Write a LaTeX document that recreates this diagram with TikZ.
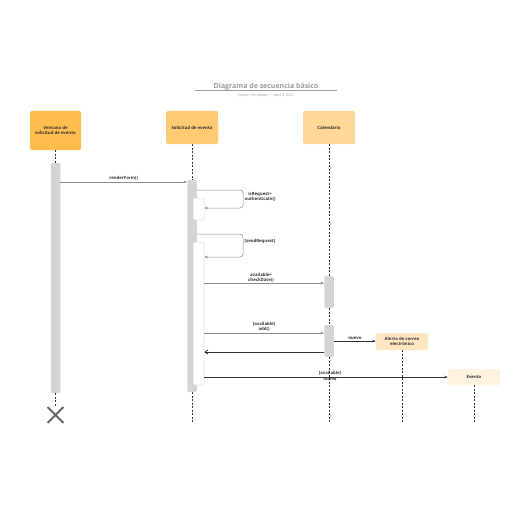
\documentclass[tikz,border=0pt]{standalone}
\usepackage{fontspec}
\setmainfont{Open Sans}
\usetikzlibrary{arrows.meta,shapes.misc}
\definecolor{cA}{HTML}{FFBD4E}
\definecolor{cB}{HTML}{FFCA71}
\definecolor{cC}{HTML}{FFD797}
\definecolor{cD}{HTML}{FFE6C2}
\definecolor{cE}{HTML}{FFF3E0}
\definecolor{barc}{HTML}{D4D4D4}
\definecolor{msgc}{HTML}{8C8C8C}
\definecolor{darkc}{HTML}{333333}
\definecolor{titc}{HTML}{9A9A9A}
\tikzset{
  actor/.style={rounded corners=1.5pt, inner sep=1pt, align=center, font=\fontsize{4.3}{5.4}\selectfont\bfseries, text=darkc},
  bar/.style={fill=barc, draw=none, rounded corners=1.5pt, minimum width=9.5pt, inner sep=0pt},
  wbox/.style={fill=white, draw=barc, line width=0.5pt, rounded corners=1.5pt, minimum width=11pt, inner sep=0pt},
  life/.style={draw=darkc, line width=0.6pt, dash pattern=on 2pt off 1.5pt},
  msg/.style={draw=msgc, line width=0.5pt, -{Stealth[length=3.5pt,width=2.5pt]}},
  dmsg/.style={draw=darkc, line width=0.8pt, -{Stealth[length=3.5pt,width=2.5pt]}},
  ret/.style={draw=darkc, line width=0.8pt, -{Straight Barb[length=3pt,width=4pt]}},
  lbl/.style={font=\fontsize{4.3}{5.4}\selectfont\bfseries, text=darkc, align=center, inner sep=0.5pt}
}
\begin{document}
\begin{tikzpicture}[x=1pt,y=-1pt]
\useasboundingbox (0,0) rectangle (516,516);
% title
\node[font=\fontsize{7}{8}\selectfont\bfseries, text=titc] (title) at (266,86.5) {Diagrama de secuencia básico};
\draw[titc, line width=0.5pt] (195,90.5) -- (337,90.5);
\node[font=\fontsize{3.6}{4}\selectfont, text=titc] (sub) at (266,96) {System Templates \ | \ April 4, 2021};
% actors
\node[actor, fill=cA, minimum width=51pt, minimum height=39pt] (a1) at (55.5,130.5) {Ventana de\\solicitud de evento};
\node[actor, fill=cB, minimum width=52pt, minimum height=33pt] (a2) at (192,127.5) {Solicitud de evento};
\node[actor, fill=cC, minimum width=52pt, minimum height=33pt] (a3) at (329,127.5) {Calendario};
\node[actor, fill=cD, minimum width=52pt, minimum height=17pt] (a4) at (402,341.5) {Alerta de correo\\electrónico};
\node[actor, fill=cE, minimum width=52pt, minimum height=16pt] (a5) at (474,377) {Evento};
% activation bars
\node[bar, minimum height=230pt] (b1) at (55.5,278) {};
\node[bar, minimum height=212pt] (b2) at (192,286) {};
\node[wbox, minimum height=22pt] (w1) at (198.5,209) {};
\node[wbox, minimum height=143pt] (w2) at (198.5,313.5) {};
\node[bar, minimum height=32pt] (b3) at (329,292) {};
\node[bar, minimum height=32pt] (b4) at (329,341) {};
% end points
\node[cross out, draw=darkc!75, line width=1.8pt, minimum size=14pt, inner sep=0pt] (x1) at (55.5,415) {};
\coordinate (e2) at (192,423);
\coordinate (e3) at (329,423);
\coordinate (e4) at (402,423);
\coordinate (e5) at (474,423);
% lifelines
\draw[life] (a1.south) -- (b1.north);
\draw[life] (b1.south) -- (x1.north);
\draw[life] (a2.south) -- (b2.north);
\draw[life] (b2.south) -- (e2);
\draw[life] (a3.south) -- (b3.north);
\draw[life] (b3.south) -- (b4.north);
\draw[life] (b4.south) -- (e3);
\draw[life] (a4.south) -- (e4);
\draw[life] (a5.south) -- (e5);
% message levels
\coordinate (y1) at (0,182);
\coordinate (y2) at (0,190);
\coordinate (y3) at (0,208);
\coordinate (y4) at (0,234);
\coordinate (y5) at (0,257);
\coordinate (y6) at (0,283);
\coordinate (y7) at (0,333);
\coordinate (y8) at (0,352);
\coordinate (y9) at (0,341);
\coordinate (y10) at (0,377);
\coordinate (xr) at (243,0);
% messages
\draw[msg] (b1.east |- y1) -- node[lbl, above=1pt] (l1) {renderForm()} (b2.west |- y1);
\draw[msg, rounded corners=3pt] (b2.east |- y2) -- (xr |- y2) -- (xr |- y3) -- (w1.east |- y3);
\node[lbl, anchor=west] (l2) at (244,197) {isRequest=\\authenticate()};
\draw[msg, rounded corners=3pt] (b2.east |- y4) -- (xr |- y4) -- (xr |- y5) -- (w2.east |- y5);
\node[lbl, anchor=west] (l3) at (244,241.5) {[sendRequest]};
\draw[msg] (w2.east |- y6) -- (b3.west |- y6);
\node[lbl] (l4) at (261,277.5) {available=\\checkDate()};
\draw[msg] (w2.east |- y7) -- (b4.west |- y7);
\node[lbl] (l5) at (264,326.5) {[available]\\add()};
\draw[ret] (b4.west |- y8) -- (w2.east |- y8);
\draw[dmsg] (b4.east |- y9) -- node[lbl, above=0.5pt] (l6) {nuevo} (a4.west |- y9);
\draw[dmsg] (w2.east |- y10) -- (a5.west |- y10);
\node[lbl] (l7) at (330,376) {[available]\\nuevo};
\end{tikzpicture}
\end{document}
